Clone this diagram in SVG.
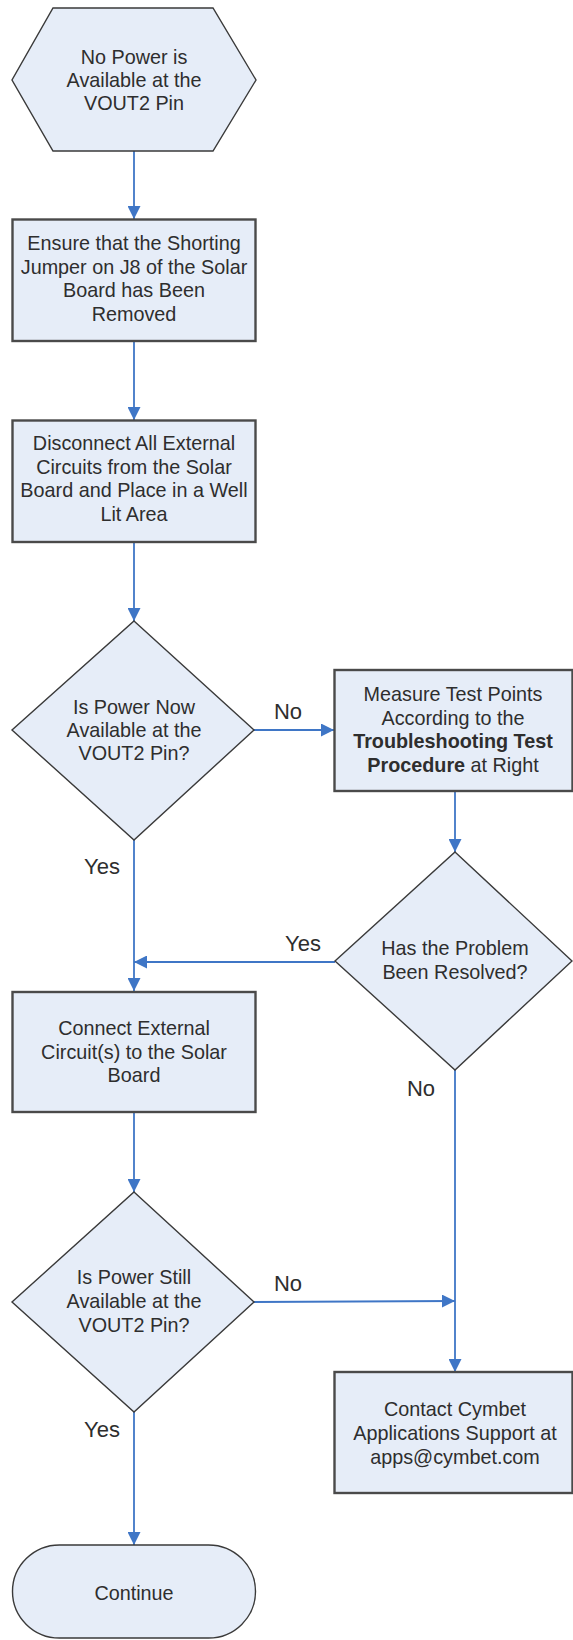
<svg xmlns="http://www.w3.org/2000/svg" width="573" height="1640" viewBox="0 0 573 1640">
<defs>
<marker id="arr" viewBox="0 0 12 12" refX="12" refY="6" markerWidth="13" markerHeight="13" markerUnits="userSpaceOnUse" orient="auto">
<path d="M0,0 L12,6 L0,12 Z" fill="#3f76c6"/>
</marker>
<style>
.shape{fill:#e6edf8;stroke:#3a3a3a;stroke-width:1.4}
.box{fill:#e6edf8;stroke:#4a4a4a;stroke-width:2.4}
.t{font-family:"Liberation Sans",Arial,sans-serif;font-size:19.8px;fill:#2e2e2e;text-anchor:middle}
.b{font-weight:bold}
.lbl{font-family:"Liberation Sans",Arial,sans-serif;font-size:22px;fill:#2e2e2e;text-anchor:middle}
.c{fill:none;stroke:#3f76c6;stroke-width:1.8;marker-end:url(#arr)}
</style>
</defs>
<rect width="573" height="1640" fill="#ffffff"/>
<g id="connectors">
<line class="c" x1="134" y1="151" x2="134" y2="219"/>
<line class="c" x1="134" y1="341" x2="134" y2="420"/>
<line class="c" x1="134" y1="542" x2="134" y2="621"/>
<line class="c" x1="254" y1="730" x2="334" y2="730"/>
<line class="c" x1="455" y1="791" x2="455" y2="852"/>
<line class="c" x1="134" y1="840" x2="134" y2="991"/>
<line class="c" x1="335" y1="962" x2="134" y2="962"/>
<line class="c" x1="455" y1="1070" x2="455" y2="1372"/>
<line class="c" x1="134" y1="1112" x2="134" y2="1192"/>
<line class="c" x1="254" y1="1302" x2="455" y2="1301"/>
<line class="c" x1="134" y1="1412" x2="134" y2="1545"/>
<text class="lbl" x="288" y="719">No</text>
<text class="lbl" x="102" y="874">Yes</text>
<text class="lbl" x="303" y="951">Yes</text>
<text class="lbl" x="421" y="1096">No</text>
<text class="lbl" x="288" y="1291">No</text>
<text class="lbl" x="102" y="1437">Yes</text>
</g>
<g id="start">
<polygon class="shape" points="53,8 213,8 256,80 213,151 53,151 12,80"/>
<text class="t" x="134" y="64">No Power is</text>
<text class="t" x="134" y="87">Available at the</text>
<text class="t" x="134" y="110">VOUT2 Pin</text>
</g>
<g id="ensure">
<rect class="box" x="12.5" y="219.5" width="243" height="121.5"/>
<text class="t" x="134" y="250">Ensure that the Shorting</text>
<text class="t" x="134" y="274">Jumper on J8 of the Solar</text>
<text class="t" x="134" y="297">Board has Been</text>
<text class="t" x="134" y="321">Removed</text>
</g>
<g id="disconnect">
<rect class="box" x="12.5" y="420.5" width="243" height="121.5"/>
<text class="t" x="134" y="450">Disconnect All External</text>
<text class="t" x="134" y="474">Circuits from the Solar</text>
<text class="t" x="134" y="497">Board and Place in a Well</text>
<text class="t" x="134" y="521">Lit Area</text>
</g>
<g id="decision1">
<polygon class="shape" points="134,621 254,730 134,840 12,730"/>
<text class="t" x="134" y="714">Is Power Now</text>
<text class="t" x="134" y="737">Available at the</text>
<text class="t" x="134" y="760">VOUT2 Pin?</text>
</g>
<g id="measure">
<rect class="box" x="334.5" y="670" width="238" height="121"/>
<text class="t" x="453" y="701">Measure Test Points</text>
<text class="t" x="453" y="724.5">According to the</text>
<text class="t b" x="453" y="748">Troubleshooting Test</text>
<text class="t" x="453" y="771.5"><tspan class="b">Procedure</tspan> at Right</text>
</g>
<g id="decision2">
<polygon class="shape" points="455,852 572,961 455,1070 335,961"/>
<text class="t" x="455" y="955">Has the Problem</text>
<text class="t" x="455" y="979">Been Resolved?</text>
</g>
<g id="connect">
<rect class="box" x="12.5" y="992" width="243" height="120"/>
<text class="t" x="134" y="1035">Connect External</text>
<text class="t" x="134" y="1059">Circuit(s) to the Solar</text>
<text class="t" x="134" y="1082">Board</text>
</g>
<g id="decision3">
<polygon class="shape" points="134,1192 254,1302 134,1412 12,1302"/>
<text class="t" x="134" y="1284">Is Power Still</text>
<text class="t" x="134" y="1308">Available at the</text>
<text class="t" x="134" y="1332">VOUT2 Pin?</text>
</g>
<g id="contact">
<rect class="box" x="334.5" y="1372" width="238" height="121"/>
<text class="t" x="455" y="1416">Contact Cymbet</text>
<text class="t" x="455" y="1440">Applications Support at</text>
<text class="t" x="455" y="1464">apps@cymbet.com</text>
</g>
<g id="continue">
<rect class="shape" x="12.5" y="1545" width="243" height="93" rx="47" ry="46.5"/>
<text class="t" x="134" y="1600">Continue</text>
</g>
</svg>
